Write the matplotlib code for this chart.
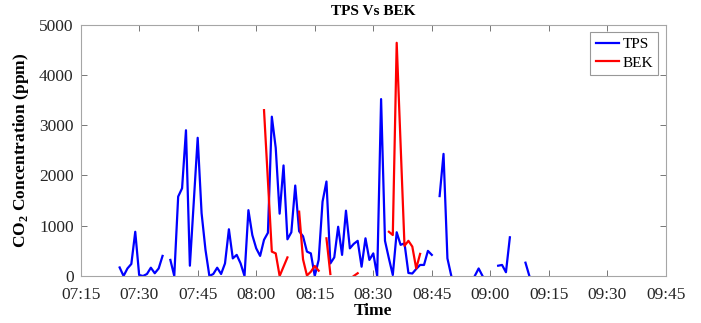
import numpy as np
import pandas as pd
import matplotlib
matplotlib.use("Agg")
import matplotlib.pyplot as plt
import matplotlib.dates as mdates

nan = np.nan

tps_times = ["07:25", "07:26", "07:27", "07:28", "07:29", "07:30", "07:31", "07:32", "07:33",
             "07:34", "07:35", "07:36", "07:37", "07:38", "07:39", "07:40", "07:41", "07:42",
             "07:43", "07:45", "07:46", "07:47", "07:48", "07:49", "07:50", "07:51", "07:52",
             "07:53", "07:54", "07:55", "07:56", "07:57", "07:58", "07:59", "08:00", "08:01",
             "08:02", "08:03", "08:04", "08:05", "08:06", "08:07", "08:08", "08:09", "08:10",
             "08:11", "08:12", "08:13", "08:14", "08:15", "08:16", "08:17", "08:18", "08:19",
             "08:20", "08:21", "08:22", "08:23", "08:24", "08:25", "08:26", "08:27", "08:28",
             "08:29", "08:30", "08:31", "08:32", "08:33", "08:34", "08:35", "08:36", "08:37",
             "08:38", "08:39", "08:40", "08:41", "08:42", "08:43", "08:44", "08:45", "08:46",
             "08:47", "08:48", "08:49", "08:50", "08:51", "08:56", "08:57", "08:58", "08:59",
             "09:02", "09:03", "09:04", "09:05", "09:06", "09:09", "09:10"]
tps_values = [170, 0, 150, 240, 880, 20, 0, 40, 165,
              55, 150, 400, nan, 320, 0, 1580, 1745, 2900,
              205, 2750, 1250, 520, 0, 40, 165, 40, 250,
              930, 350, 420, 250, 0, 1310, 815, 550, 400,
              720, 860, 3170, 2550, 1240, 2200, 730, 870, 1800,
              890, 790, 485, 450, 0, 320, 1480, 1880, 250,
              370, 980, 420, 1300, 550, 640, 700, 185, 750,
              320, 450, 0, 3520, 700, 350, 20, 870, 620,
              650, 60, 50, 140, 220, 220, 500, 420, nan,
              1590, 2430, 350, 0, nan, 0, 150, 0, nan,
              205, 220, 75, 770, nan, 265, 0]

bek_times = ["08:02", "08:04", "08:05", "08:06", "08:07", "08:08", "08:09",
             "08:11", "08:12", "08:13", "08:14", "08:15", "08:16", "08:17",
             "08:18", "08:19", "08:20", "08:25", "08:26", "08:27",
             "08:34", "08:35", "08:36", "08:38", "08:39", "08:40", "08:41", "08:42"]
bek_values = [3300, 485, 450, 0, 185, 370, nan,
              1280, 330, 10, 85, 200, 105, nan,
              750, 40, nan, 0, 55, nan,
              880, 815, 4640, 600, 700, 585, 150, 440]

x_tick_labels = ["07:15", "07:30", "07:45", "08:00", "08:15", "08:30",
                 "08:45", "09:00", "09:15", "09:30", "09:45"]
y_ticks = [0, 1000, 2000, 3000, 4000, 5000]


def to_dt(lst):
    return pd.to_datetime(["2020-01-01 " + t for t in lst])


plt.rcParams['font.family'] = ['Liberation Serif', 'DejaVu Serif']
plt.rcParams['mathtext.fontset'] = 'custom'
plt.rcParams['mathtext.rm'] = 'Liberation Serif'
plt.rcParams['mathtext.bf'] = 'Liberation Serif:bold'

fig = plt.figure(figsize=(7.01, 3.23), dpi=100)
ax = fig.add_axes([0.115, 0.1455, 0.835, 0.778])

ax.plot(to_dt(tps_times), tps_values, color='#0000ff', lw=1.6, label='TPS')
ax.plot(to_dt(bek_times), bek_values, color='#ff0000', lw=1.6, label='BEK')

xt = to_dt(x_tick_labels)
ax.set_xlim(xt[0], xt[-1])
ax.set_xticks(xt)
ax.set_xticklabels(x_tick_labels)
ax.set_ylim(0, 5000)
ax.set_yticks(y_ticks)

spine_c = '#a6a6a6'
for s in ax.spines.values():
    s.set_color(spine_c)
    s.set_linewidth(0.8)
ax.tick_params(direction='in', top=True, right=True, length=4, width=0.6,
               color='#606060', labelsize=12.5, labelcolor='#262626')
ax.tick_params(axis='x', pad=8)
ax.tick_params(axis='y', pad=5)

ax.set_title('TPS Vs BEK', fontsize=11, fontweight='bold', pad=7)
ax.set_xlabel('Time', fontsize=12.5, fontweight='bold', labelpad=0)
ax.set_ylabel(r'CO$_\mathbf{2}$ Concentration (ppm)', fontsize=12.5,
              fontweight='bold', labelpad=6)

leg = ax.legend(loc='upper right', fontsize=11, frameon=True, fancybox=False,
                borderaxespad=0.5, handlelength=1.55, handletextpad=0.2,
                labelspacing=0.3, borderpad=0.35)
leg.get_frame().set_edgecolor('#7f7f7f')
leg.get_frame().set_linewidth(0.8)

fig.savefig('out.png', dpi=100)
